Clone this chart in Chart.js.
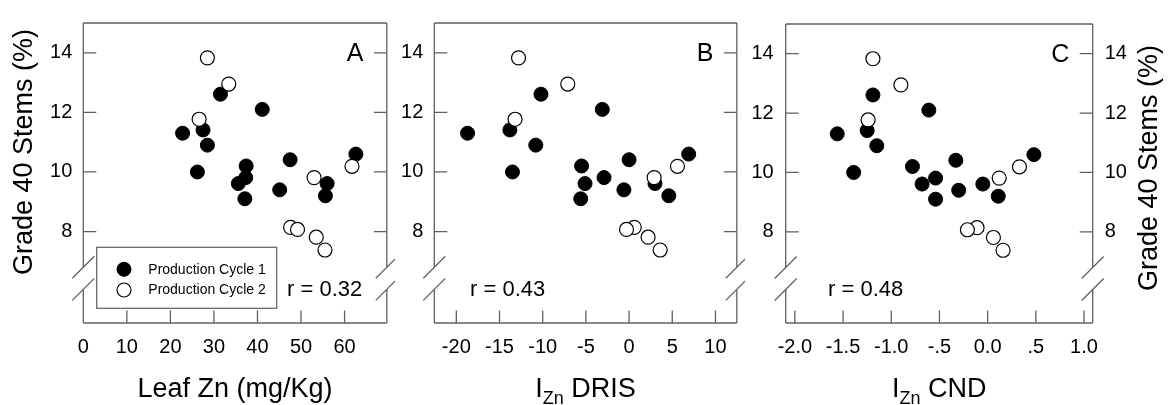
<!DOCTYPE html>
<html><head><meta charset="utf-8">
<script src="https://cdn.jsdelivr.net/npm/chart.js@4.4.1/dist/chart.umd.min.js"></script>
<style>
html,body{margin:0;padding:0;background:#fff;}
#wrap{position:relative;width:1168px;height:405px;overflow:hidden;background:#fff;}
#wrap canvas{position:absolute;top:0;}
</style></head><body>
<div id="wrap">
<canvas id="cA" width="395" height="405" style="left:0px;width:395px;height:405px"></canvas>
<canvas id="cB" width="350" height="405" style="left:395px;width:350px;height:405px"></canvas>
<canvas id="cC" width="423" height="405" style="left:745px;width:423px;height:405px"></canvas>
</div>
<script>
// ---- data ----
const seriesLabels = ['Production Cycle 1', 'Production Cycle 2'];
const stemsCycle1 = [11.30, 11.41, 10.90, 10.00, 12.61, 12.10, 10.20, 9.81, 9.61, 9.10, 9.40, 10.41, 9.61, 9.20, 10.60];
const leafZnCycle1 = [22.8, 27.5, 28.5, 26.2, 31.5, 41.1, 37.4, 37.3, 35.6, 37.1, 45.1, 47.5, 56.0, 55.6, 62.6];
const drisCycle1 = [-18.7, -13.8, -10.8, -13.5, -10.2, -3.1, -5.5, -2.9, -5.1, -5.6, -0.6, 0.0, 3.0, 4.6, 6.9];
const cndCycle1 = [-1.56, -1.25, -1.15, -1.39, -1.19, -0.61, -0.78, -0.54, -0.68, -0.54, -0.30, -0.33, -0.05, 0.11, 0.48];
const stemsCycle2 = [13.83, 12.95, 11.77, 9.81, 10.19, 8.14, 8.07, 7.81, 7.38];
const leafZnCycle2 = [28.5, 33.4, 26.6, 53.0, 61.7, 47.6, 49.2, 53.5, 55.5];
const drisCycle2 = [-12.8, -7.1, -13.2, 2.9, 5.6, 0.6, -0.3, 2.2, 3.6];
const cndCycle2 = [-1.19, -0.90, -1.24, 0.12, 0.33, -0.11, -0.21, 0.06, 0.16];

const stemsTicks = [8, 10, 12, 14];
const leafZnTicks = [0, 10, 20, 30, 40, 50, 60];
const drisTicks = [-20, -15, -10, -5, 0, 5, 10];
const cndTicks = [-2, -1.5, -1, -0.5, 0, 0.5, 1];
const cndTickLabels = ['-2.0', '-1.5', '-1.0', '-.5', '0.0', '.5', '1.0'];
const panelLetters = ['A', 'B', 'C'];
const rLabels = ['r = 0.32', 'r = 0.43', 'r = 0.48'];
const yTitle = 'Grade 40 Stems (%)';
const xTitles = [
  {pre: 'Leaf Zn (mg/Kg)', sub: '', post: ''},
  {pre: 'I', sub: 'Zn', post: ' DRIS'},
  {pre: 'I', sub: 'Zn', post: ' CND'}
];
const yRange = [4.93, 15.0];
const yBreak = [6.8, 6.06];

// ---- style ----
const FONT = '"Liberation Sans", Arial, Helvetica, sans-serif';
const FRAME = '#606060';

function toPoints(xs, ys) { return xs.map((x, i) => ({x: x, y: ys[i]})); }

const decor = {
  id: 'decor',
  beforeDatasetsDraw(chart, args, o) {
    const ctx = chart.ctx, a = chart.chartArea;
    const ys = chart.scales.y, xs = chart.scales.x;
    const yb1 = ys.getPixelForValue(yBreak[0]), yb2 = ys.getPixelForValue(yBreak[1]);
    ctx.save();
    ctx.strokeStyle = FRAME; ctx.lineWidth = 1.3; ctx.lineCap = 'butt';
    ctx.beginPath();
    ctx.moveTo(a.left, a.top); ctx.lineTo(a.right, a.top);
    ctx.moveTo(a.left, a.bottom); ctx.lineTo(a.right, a.bottom);
    [a.left, a.right].forEach(bx => {
      ctx.moveTo(bx, a.top); ctx.lineTo(bx, yb1);
      ctx.moveTo(bx, yb2); ctx.lineTo(bx, a.bottom);
      ctx.moveTo(bx - 11, yb1 + 11); ctx.lineTo(bx + 11, yb1 - 11);
      ctx.moveTo(bx - 11, yb2 + 11); ctx.lineTo(bx + 11, yb2 - 11);
    });
    // inward ticks
    o.xTicks.forEach(v => {
      const px = xs.getPixelForValue(v);
      if (Math.abs(px - a.left) < 1) return;
      ctx.moveTo(px, a.bottom); ctx.lineTo(px, a.bottom - 12.5);
    });
    stemsTicks.forEach(v => {
      const py = ys.getPixelForValue(v);
      ctx.moveTo(a.left, py); ctx.lineTo(a.left + 13, py);
      ctx.moveTo(a.right, py); ctx.lineTo(a.right - 13, py);
    });
    ctx.stroke();
    ctx.restore();
  },
  afterDraw(chart, args, o) {
    const ctx = chart.ctx, a = chart.chartArea;
    const ys = chart.scales.y;
    ctx.save();
    ctx.fillStyle = '#000';
    // panel letter
    ctx.font = '25px ' + FONT;
    ctx.textAlign = 'right'; ctx.textBaseline = 'middle';
    ctx.fillText(o.letter, a.right - 23.5, ys.getPixelForValue(14) + 1);
    // r label
    ctx.font = '22px ' + FONT;
    ctx.textAlign = 'left';
    ctx.fillText(o.rText, a.left + o.rOffset, 290);
    // x title with optional subscript
    const t = o.xTitle;
    const mainF = '27px ' + FONT, subF = '18px ' + FONT;
    ctx.font = mainF; const w1 = ctx.measureText(t.pre).width, w3 = ctx.measureText(t.post).width;
    ctx.font = subF; const w2 = t.sub ? ctx.measureText(t.sub).width : 0;
    let x0 = (a.left + a.right) / 2 - (w1 + w2 + w3) / 2;
    ctx.textBaseline = 'alphabetic'; ctx.textAlign = 'left';
    ctx.font = mainF; ctx.fillText(t.pre, x0, 397);
    if (t.sub) { ctx.font = subF; ctx.fillText(t.sub, x0 + w1, 404); }
    ctx.font = mainF; ctx.fillText(t.post, x0 + w1 + w2, 397);
    // y titles
    ctx.font = '27px ' + FONT; ctx.textAlign = 'center'; ctx.textBaseline = 'middle';
    (o.yTitles || []).forEach(p => {
      ctx.save(); ctx.translate(p.x, p.y); ctx.rotate(-Math.PI / 2);
      ctx.fillText(yTitle, 0, 0); ctx.restore();
    });
    // legend
    if (o.legend) {
      ctx.strokeStyle = FRAME; ctx.lineWidth = 1.2;
      ctx.strokeRect(96.7, 247.3, 180, 61);
      const rows = [269.3, 290];
      chart.data.datasets.forEach((ds, i) => {
        ctx.beginPath();
        ctx.arc(124, rows[i], 7, 0, Math.PI * 2);
        ctx.fillStyle = ds.backgroundColor; ctx.fill();
        ctx.lineWidth = ds.borderWidth; ctx.strokeStyle = ds.borderColor; ctx.stroke();
        ctx.fillStyle = '#000'; ctx.font = '14px ' + FONT;
        ctx.textAlign = 'left'; ctx.textBaseline = 'middle';
        ctx.fillText(seriesLabels[i], 148.3, rows[i] + 0.5);
      });
    }
    ctx.restore();
  }
};

function fixedTicks(list) {
  return function (scale) { scale.ticks = list.map(v => ({value: v})); };
}

function makePanel(id, cfg) {
  const tickFont = {family: FONT, size: 20};
  const scales = {
    x: {
      type: 'linear', min: cfg.xMin, max: cfg.xMax,
      grid: {display: false, drawTicks: false}, border: {display: false},
      afterBuildTicks: fixedTicks(cfg.xTicks),
      afterFit: s => { s.height = 82; },
      ticks: {color: '#000', font: tickFont, padding: 12, maxRotation: 0, autoSkip: false,
        callback: cfg.xLabel || (v => String(v))}
    },
    y: {
      type: 'linear', position: 'left', min: yRange[0], max: yRange[1],
      grid: {display: false, drawTicks: false}, border: {display: false},
      afterBuildTicks: fixedTicks(stemsTicks),
      afterFit: s => { s.width = cfg.yLeftW; },
      ticks: {color: '#000', font: tickFont, padding: cfg.yPad, autoSkip: false,
        display: true, callback: v => String(v)}
    }
  };
  if (cfg.yRightW) {
    scales.y2 = {
      type: 'linear', position: 'right', min: yRange[0], max: yRange[1],
      grid: {display: false, drawTicks: false}, border: {display: false},
      afterBuildTicks: fixedTicks(stemsTicks),
      afterFit: s => { s.width = cfg.yRightW; },
      ticks: {color: '#000', font: tickFont, padding: 12, autoSkip: false, callback: v => String(v)}
    };
  }
  return new Chart(document.getElementById(id), {
    type: 'scatter',
    data: {
      datasets: [
        {label: seriesLabels[0], data: toPoints(cfg.x1, stemsCycle1), order: 2,
          backgroundColor: '#000', borderColor: '#000', borderWidth: 1, pointRadius: 7, pointHoverRadius: 7},
        {label: seriesLabels[1], data: toPoints(cfg.x2, stemsCycle2), order: 1,
          backgroundColor: '#fff', borderColor: '#000', borderWidth: 1.2, pointRadius: 7, pointHoverRadius: 7}
      ]
    },
    options: {
      responsive: false, animation: false, devicePixelRatio: 1,
      layout: {padding: {top: 15, left: 0, bottom: 0, right: cfg.padRight}},
      plugins: {
        legend: {display: false}, tooltip: {enabled: false},
        decor: cfg.decor
      },
      scales: scales
    },
    plugins: [decor]
  });
}

makePanel('cA', {
  x1: leafZnCycle1, x2: leafZnCycle2, xMin: 0, xMax: 69.7, xTicks: leafZnTicks,
  yLeftW: 83.3, yPad: 11, padRight: 4.5,
  decor: {letter: panelLetters[0], rText: rLabels[0], rOffset: 203.7, xTitle: xTitles[0],
    xTicks: leafZnTicks, legend: true, yTitles: [{x: 25, y: 152}]}
});
makePanel('cB', {
  x1: drisCycle1, x2: drisCycle2, xMin: -22.55, xMax: 12.47, xTicks: drisTicks,
  yLeftW: 39.3, yPad: 11, padRight: 3.3,
  decor: {letter: panelLetters[1], rText: rLabels[1], rOffset: 35.7, xTitle: xTitles[1],
    xTicks: drisTicks, legend: false, yTitles: []}
});
makePanel('cC', {
  x1: cndCycle1, x2: cndCycle2, xMin: -2.095, xMax: 1.09, xTicks: cndTicks,
  xLabel: (v) => cndTickLabels[cndTicks.indexOf(v)],
  yLeftW: 40.7, yRightW: 75.3, yPad: 12, padRight: 0,
  decor: {letter: panelLetters[2], rText: rLabels[2], rOffset: 42.3, xTitle: xTitles[2],
    xTicks: cndTicks, legend: false, yTitles: [{x: 405, y: 168}]}
});
</script>
</body></html>
